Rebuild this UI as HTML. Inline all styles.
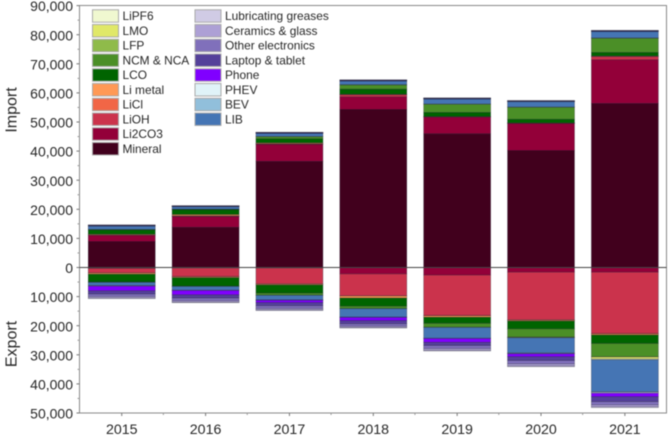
<!DOCTYPE html>
<html lang="en">
<head>
<meta charset="utf-8">
<title>Lithium import and export</title>
<style>
html,body{margin:0;padding:0;background:#fff;width:670px;height:439px;overflow:hidden}
svg{display:block;filter:blur(0.4px)}
text{font-family:"Liberation Sans",Arial,sans-serif;fill:#262626}
</style>
</head>
<body>
<svg id="chart" xmlns="http://www.w3.org/2000/svg" width="670" height="439" viewBox="0 0 670 439"></svg>
<script>
const years = ['2015','2016','2017','2018','2019','2020','2021'];
const yTickValues = [90000,80000,70000,60000,50000,40000,30000,20000,10000,0,-10000,-20000,-30000,-40000,-50000];
const seriesNames = ['Mineral','Li2CO3','LiOH','LiCl','Li metal','LCO','NCM & NCA','LFP','LMO','LiPF6','LIB','BEV','PHEV','Phone','Laptop & tablet','Other electronics','Ceramics & glass','Lubricating greases'];
const seriesColors = ['#41001d','#930039','#cb334c','#f16646','#ff9955','#006400','#4b8f27','#8fbb4a','#e0e868','#f0f8d0','#4575b4','#91bfdb','#e0f3f8','#8000ff','#54409a','#8070bb','#ada0d5','#d0cbe5'];
const importMineral = [8930,13850,36500,54300,46000,40200,56400];
const importLi2CO3 = [2130,3675,5800,4360,5700,9300,15000];
const importLiOH = [100,100,150,700,100,100,1100];
const importLiCl = [40,200,150,100,50,50,100];
const importLiMetal = [250,400,250,100,50,50,100];
const importLCO = [1500,1700,1400,1750,1400,1250,1200];
const importNCM = [100,100,700,1440,2800,4100,4900];
const importLFP = [50,50,100,100,100,100,50];
const importLMO = [0,0,0,0,0,0,0];
const importLiPF6 = [0,0,0,0,0,0,50];
const importLIB = [1150,800,1050,1250,1700,1850,2200];
const importBEV = [60,60,60,60,60,60,60];
const importPHEV = [20,20,20,20,20,20,20];
const importPhone = [40,40,40,40,40,40,40];
const importLaptop = [120,120,120,120,120,120,120];
const importOther = [60,60,60,60,60,60,60];
const importCeramics = [50,50,50,50,50,50,50];
const importLube = [50,50,50,50,50,50,50];
const exportMineral = [200,100,100,100,100,100,100];
const exportLi2CO3 = [100,100,100,2100,2500,1500,1500];
const exportLiOH = [1500,2900,5400,7500,13900,16400,21100];
const exportLiCl = [100,100,100,100,100,100,100];
const exportLiMetal = [400,300,300,700,500,300,400];
const exportLCO = [2700,2900,2800,2800,2100,2700,2900];
const exportNCM = [100,100,700,800,1300,2800,4550];
const exportLFP = [0,0,50,50,100,150,100];
const exportLMO = [0,0,0,0,0,100,650];
const exportLiPF6 = [0,0,0,0,0,0,300];
const exportLIB = [1100,1300,1600,2900,3700,5200,11000];
const exportBEV = [100,50,50,50,50,200,200];
const exportPHEV = [100,50,50,50,50,100,300];
const exportPhone = [1600,1500,800,1100,1300,1000,1200];
const exportLaptop = [1100,1100,1100,1100,1100,1300,1700];
const exportOther = [850,900,925,800,1050,1175,1100];
const exportCeramics = [500,500,500,450,600,700,650];
const exportLube = [250,200,225,200,250,275,300];
const importSeries = [importMineral,importLi2CO3,importLiOH,importLiCl,importLiMetal,importLCO,importNCM,importLFP,importLMO,importLiPF6,importLIB,importBEV,importPHEV,importPhone,importLaptop,importOther,importCeramics,importLube];
const exportSeries = [exportMineral,exportLi2CO3,exportLiOH,exportLiCl,exportLiMetal,exportLCO,exportNCM,exportLFP,exportLMO,exportLiPF6,exportLIB,exportBEV,exportPHEV,exportPhone,exportLaptop,exportOther,exportCeramics,exportLube];

const svg = document.getElementById('chart');
const NS = 'http://www.w3.org/2000/svg';
const plotLeft = 79.5, plotRight = 666.5, plotTop = 5.5, zeroY = 267.5, pxPer = 2.91 / 1000;
const yScale = v => zeroY - v * pxPer;
const catWidth = (plotRight - plotLeft) / years.length;
const xScale = i => plotLeft + catWidth * (i + 0.5) + 0.3;
const barWidth = 67;

function mk(tag, attrs, parent) {
  const el = document.createElementNS(NS, tag);
  for (const k in attrs) el.setAttribute(k, attrs[k]);
  (parent || svg).appendChild(el);
  return el;
}

const gBars = mk('g', {});



function drawStack(seriesList, sign, dir) {
  years.forEach((yr, i) => {
    let acc = 0;
    seriesList.forEach((s, k) => {
      const v = s[i];
      if (!v) return;
      const y0 = yScale(sign * acc), y1 = yScale(sign * (acc + v));
      acc += v;
      const r = mk('rect', {
        x: xScale(i) - barWidth / 2,
        y: Math.min(y0, y1),
        width: barWidth,
        height: Math.abs(y1 - y0),
        fill: seriesColors[k],
        stroke: 'rgba(20,20,40,0.5)',
        'stroke-width': 0.5
      }, gBars);
      
      
    });
  });
}
drawStack(importSeries, 1, 'import');
drawStack(exportSeries, -1, 'export');

const frame = mk('rect', {x: plotLeft, y: plotTop, width: plotRight - plotLeft, height: yScale(-50000) - plotTop, fill: 'none', stroke: '#8a8a8a', 'stroke-width': 1});



const zero = mk('line', {x1: plotLeft, x2: plotRight, y1: zeroY, y2: zeroY, stroke: '#444', 'stroke-width': 1});



yTickValues.forEach((v, i) => {
  const y = yScale(v);
  const t = mk('line', {x1: plotLeft - 3, x2: plotLeft, y1: y, y2: y, stroke: '#777', 'stroke-width': 1});
  
  
  if (i < yTickValues.length - 1) {
    const my = yScale(v - 5000);
    const m = mk('line', {x1: plotLeft - 2, x2: plotLeft, y1: my, y2: my, stroke: '#999', 'stroke-width': 1});
    
    
  }
  const lab = mk('text', {x: 73, y: y + 5.6, 'text-anchor': 'end', 'font-size': 14});
  lab.textContent = Math.abs(v).toLocaleString('en-US');
  
  
});

const axisBottom = yScale(-50000);
years.forEach((yr, i) => {
  const x = xScale(i);
  const t = mk('line', {x1: x, x2: x, y1: axisBottom, y2: axisBottom + 3, stroke: '#777', 'stroke-width': 1});
  
  
  if (i > 0) {
    const bx = plotLeft + catWidth * i;
    const m = mk('line', {x1: bx, x2: bx, y1: axisBottom, y2: axisBottom + 2, stroke: '#999', 'stroke-width': 1});
    
    
  }
  const lab = mk('text', {x: x, y: axisBottom + 21, 'text-anchor': 'middle', 'font-size': 14.2});
  lab.textContent = yr;
  
  
});

const impT = mk('text', {transform: 'translate(16.5,110) rotate(-90)', 'text-anchor': 'middle', 'font-size': 16});
impT.textContent = 'Import';


const expT = mk('text', {transform: 'translate(16.5,344) rotate(-90)', 'text-anchor': 'middle', 'font-size': 16});
expT.textContent = 'Export';



const legendColumn1 = ['LiPF6','LMO','LFP','NCM & NCA','LCO','Li metal','LiCl','LiOH','Li2CO3','Mineral'];
const legendColumn2 = ['Lubricating greases','Ceramics & glass','Other electronics','Laptop & tablet','Phone','PHEV','BEV','LIB'];
const gLegend = mk('g', {});


function drawLegend(names, sx) {
  names.forEach((n, i) => {
    const cy = 15.8 + i * 14.75;
    const sw = mk('rect', {x: sx, y: cy - 6, width: 26, height: 12.4, fill: seriesColors[seriesNames.indexOf(n)], stroke: '#aaa', 'stroke-width': 1}, gLegend);
    
    
    const tx = mk('text', {x: sx + 30, y: cy + 4.4, 'font-size': 11.9}, gLegend);
    tx.textContent = n;
    
    
  });
}
drawLegend(legendColumn1, 92.5);
drawLegend(legendColumn2, 195);
</script>
</body>
</html>
